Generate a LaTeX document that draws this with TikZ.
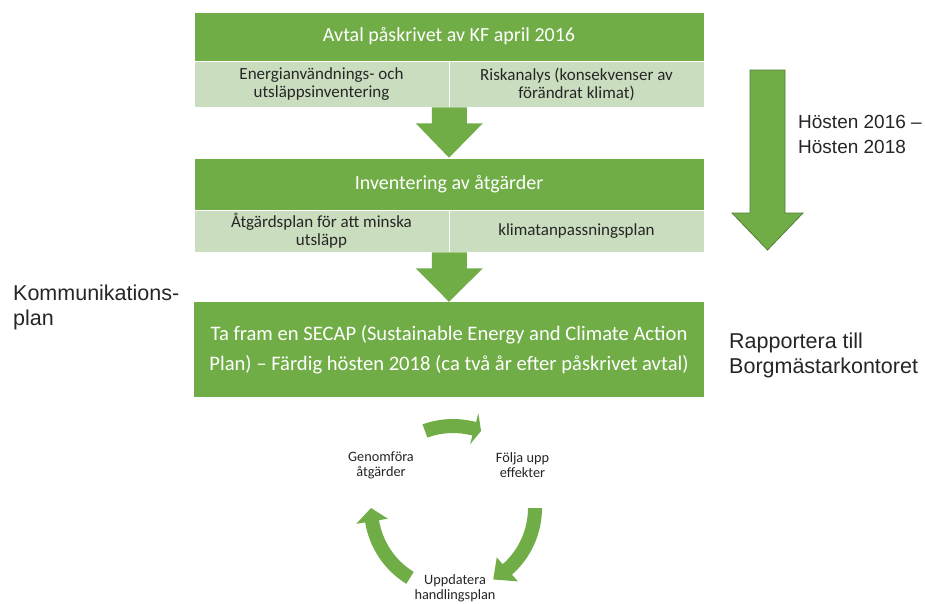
\documentclass[tikz,border=0pt]{standalone}
\usepackage{fontspec}
\setmainfont{Carlito}
\newfontfamily\arialf{Liberation Sans}
\usetikzlibrary{calc}
\definecolor{dg}{HTML}{70AD47}
\definecolor{lg}{HTML}{CADEBF}
\definecolor{dgline}{HTML}{507E32}
\definecolor{txt}{HTML}{262626}
\tikzset{
  hdr/.style={rectangle, fill=dg, draw=white, line width=0.6pt, inner sep=0pt,
    minimum width=510pt, text=white, font=\fontsize{20}{24}\selectfont},
  cell/.style={rectangle, fill=lg, draw=white, line width=0.6pt, inner sep=0pt,
    minimum width=255pt, text=txt, align=center, font=\fontsize{17}{18}\selectfont},
  bigbox/.style={rectangle, fill=dg, inner sep=0pt, minimum width=510pt,
    minimum height=95pt, text=white, align=center, font=\fontsize{20.6}{30}\selectfont},
  side/.style={inner sep=0pt, text=txt, align=left, font=\arialf\fontsize{21.5}{25}\selectfont},
  cyc/.style={inner sep=0pt, text=txt, align=center, font=\fontsize{14.3}{15}\selectfont},
  blockarrow/.style={fill=dg},
}
\newcommand\cycarrow[3]{%
  \fill[dg] (#1:89pt) arc[start angle=#1,end angle=#2,radius=89pt]
    -- (#2:98pt) -- (#3:82pt) -- (#2:66pt) -- (#2:75pt)
    arc[start angle=#2,end angle=#1,radius=75pt] -- cycle;}
\begin{document}
\begin{tikzpicture}[x=1pt,y=-1pt]
\useasboundingbox (0,0) rectangle (925,603);
\fill[white] (0,0) rectangle (925,603);

% first block
\node[hdr, minimum height=49pt] (h1) at (449,36.5) {Avtal påskrivet av KF april 2016};
\node[cell, minimum height=46pt] (s1a) at (321.5,84) {Energianvändnings- och\\utsläppsinventering};
\node[cell, minimum height=46pt] (s1b) at (576.5,84) {Riskanalys (konsekvenser av\\förändrat klimat)};

% second block
\node[hdr, minimum height=52pt] (h2) at (449,184) {Inventering av åtgärder};
\node[cell, minimum height=42pt] (s2a) at (321.5,231) {Åtgärdsplan för att minska\\utsläpp};
\node[cell, minimum height=42pt] (s2b) at (576.5,231) {klimatanpassningsplan};

% big box
\node[bigbox] (h3) at (449,349.5) {Ta fram en SECAP (Sustainable Energy and Climate Action\\Plan) – Färdig hösten 2018 (ca två år efter påskrivet avtal)};

% block arrows between boxes
\coordinate (a1) at (s1a.south east);
\fill[blockarrow] ($(a1)+(-17.5,0)$) -- ($(a1)+(-17.5,16)$) -- ($(a1)+(-33.5,16)$)
  -- (h2.north) -- ($(a1)+(33.5,16)$) -- ($(a1)+(17.5,16)$) -- ($(a1)+(17.5,0)$) -- cycle;
\coordinate (a2) at (s2a.south east);
\fill[blockarrow] ($(a2)+(-17.5,0)$) -- ($(a2)+(-17.5,16)$) -- ($(a2)+(-33.5,16)$)
  -- (h3.north) -- ($(a2)+(33.5,16)$) -- ($(a2)+(17.5,16)$) -- ($(a2)+(17.5,0)$) -- cycle;

% big time arrow
\coordinate (tt) at (767.5,70);
\coordinate (tb) at (767.5,250);
\draw[fill=dg, draw=dgline, line width=0.8pt]
  ($(tt)+(-17.5,0)$) -- ($(tt)+(-17.5,143)$) -- ($(tt)+(-35.5,143)$) -- (tb)
  -- ($(tt)+(35.5,143)$) -- ($(tt)+(17.5,143)$) -- ($(tt)+(17.5,0)$) -- cycle;
\node[side, font=\arialf\fontsize{19}{25}\selectfont, anchor=west] (tl) at (798,134) {Hösten 2016 –\\Hösten 2018};

% side labels
\node[side, anchor=west] (komm) at (13,307) {Kommunikations-\\plan};
\node[side, anchor=west] (rapp) at (729,355) {Rapportera till\\Borgmästarkontoret};

% cycle
\node[cyc] (c1) at (381,465) {Genomföra\\åtgärder};
\node[cyc] (c2) at (522.5,465) {Följa upp\\effekter};
\node[cyc] (c3) at (455,588) {Uppdatera\\handlingsplan};
\begin{scope}[shift={(453,508)}]
  \cycarrow{110}{75}{70}
  \cycarrow{0}{-48.5}{-60.6}
  \cycarrow{238.4}{189.3}{180}
\end{scope}
\end{tikzpicture}
\end{document}
